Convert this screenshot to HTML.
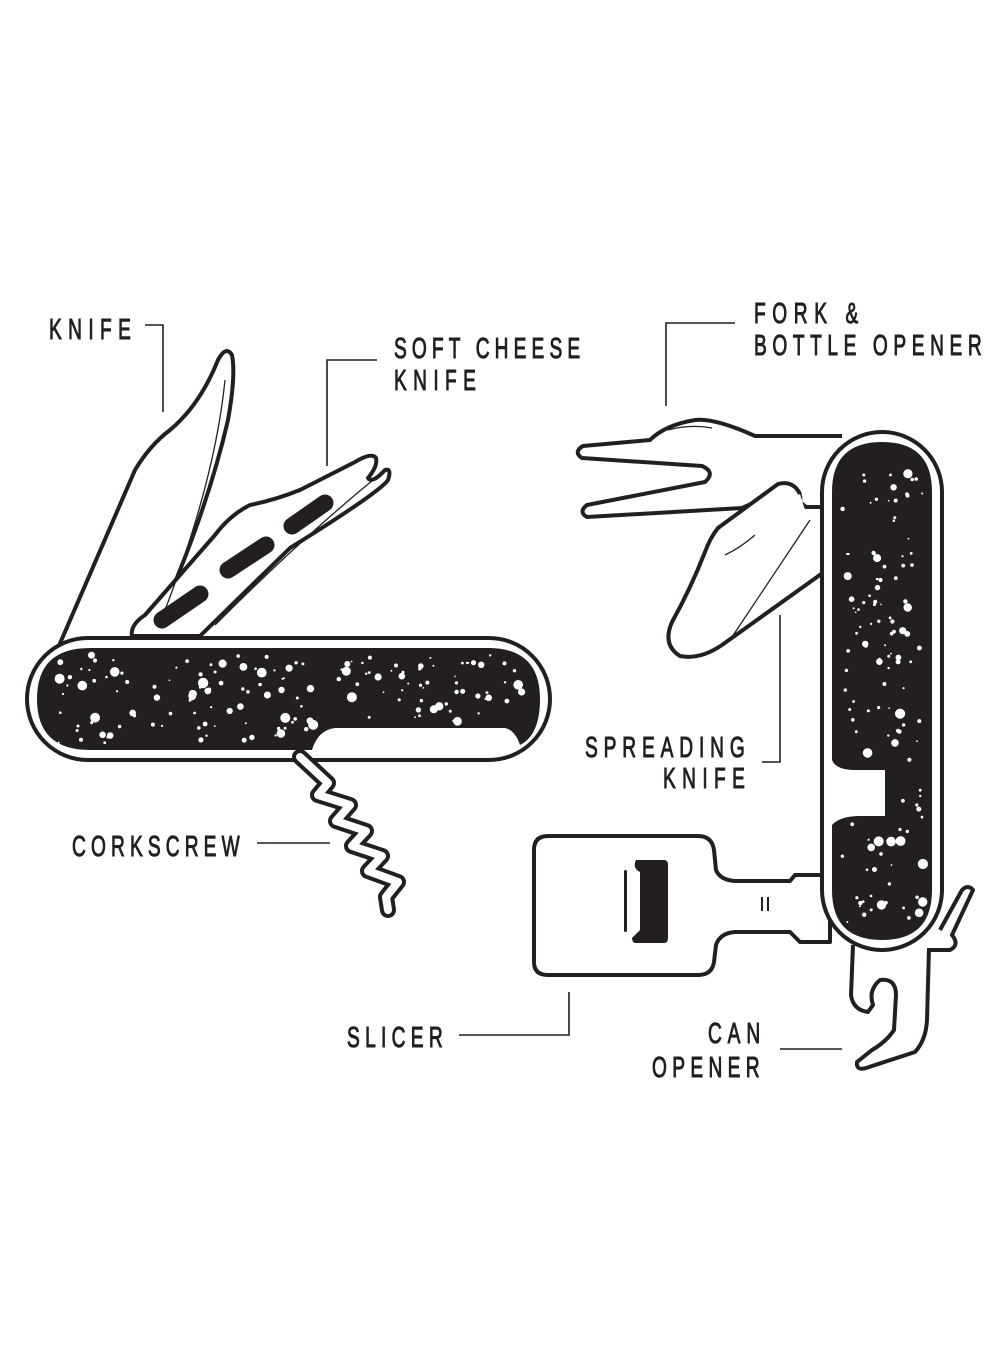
<!DOCTYPE html>
<html><head><meta charset="utf-8"><style>
html,body{margin:0;padding:0;background:#fff}
svg{display:block}
text{font-family:"Liberation Sans",sans-serif;font-size:29px;fill:#231f20;stroke:#231f20;stroke-width:1}
</style></head><body>
<svg id="s" width="1000" height="1360" viewBox="0 0 1000 1360" xmlns="http://www.w3.org/2000/svg">
<g fill="none" stroke="#231f20" stroke-width="1.6">
<polyline points="145,325 163,325 163,412"/>
<polyline points="377,360 327,360 327,466"/>
<polyline points="735,323 666,323 666,406"/>
<polyline points="762,762 780,762 780,615"/>
<polyline points="257,843 330,843"/>
<polyline points="459,1035 569,1035 569,992"/>
<polyline points="780,1049 842,1049"/>
</g>
<g fill="#fff" stroke="#231f20" stroke-width="4" stroke-linejoin="round">
<path d="M58,648 L135,470 Q150,445 170,430 Q200,405 218,360 Q226,345 232,355 Q236,375 228,420 Q205,520 150,640 Z"/>
<path d="M132,636 Q130,625 145,615 L215,535 Q230,515 250,505 Q275,500 300,490 L355,462 Q372,452 376,458 Q378,466 368,478 Q372,484 385,470 Q392,468 388,480 Q380,492 290,548 L200,636 Z"/>
<path d="M842,436 L755,436 Q715,418 695,420 Q665,425 650,440 L583,446 Q573,452 582,458 L702,466 Q716,472 705,482 L587,505 Q578,512 587,517 L742,508 L790,487 Q802,490 800,502 L806,507 L825,507"/>
<path d="M800,494 Q793,480 778,484 L718,528 Q710,538 705,552 Q690,590 672,622 Q662,645 680,656 Q700,660 722,645 L824,572"/>
<path d="M548,836 L698,836 Q712,836 714,850 L716,870 Q720,880 735,881 L790,881 L795,875 L830,875 L830,942 L800,942 L790,932 L735,932 Q720,933 716,945 L714,962 Q712,975 698,975 L548,975 Q534,975 534,962 L534,850 Q534,836 548,836 Z"/>
<path d="M853,945 L851,995 Q853,1010 868,1012 L873,1005 Q868,990 880,980 Q896,978 896,995 L894,1030 Q886,1042 872,1050 L857,1062 Q856,1071 866,1068 L915,1052 Q926,1040 927,1020 L929,948"/>
<path d="M940,930 L962,890 Q968,884 973,890 L952,935 Q960,945 950,950 L930,950"/>
<rect x="27" y="638" width="523" height="122" rx="61"/>
<rect x="822" y="432" width="120" height="518" rx="60"/>
</g>
<polyline points="300,757 328,783 318,795 350,805 336,821 366,831 352,846 382,856 368,871 398,882 386,897 388,910" fill="none" stroke="#231f20" stroke-width="16" stroke-linejoin="round" stroke-linecap="round"/>
<polyline points="300,757 328,783 318,795 350,805 336,821 366,831 352,846 382,856 368,871 398,882 386,897 388,910" fill="none" stroke="#fff" stroke-width="8" stroke-linejoin="round" stroke-linecap="round"/>
<g fill="#231f20">
<path d="M90,648 L488,648 Q540,648 540,699 Q540,735 520,745 Q515,730 505,728 L335,728 Q318,730 312,750 L90,750 Q37,750 37,699 Q37,648 90,648 Z"/>
<path d="M882,442 Q932,442 932,492 L932,890 Q932,940 882,940 Q832,940 832,890 L832,825 Q840,816 860,816 L885,816 L885,770 L855,770 Q836,770 832,760 L832,492 Q832,442 882,442 Z"/>
<g stroke="#231f20" stroke-width="17" stroke-linecap="round">
<line x1="162" y1="620" x2="200" y2="594"/>
<line x1="228" y1="570" x2="266" y2="545"/>
<line x1="292" y1="526" x2="325" y2="503"/>
</g>
<path d="M636,860 L664,860 Q668,860 668,865 L668,938 Q668,943 664,943 L636,943 Q632,943 632,938 L640,930 L640,872 Q632,868 636,860 Z"/>
<rect x="624" y="870" width="3" height="62" rx="1.5"/>
<rect x="761" y="897" width="2" height="14"/>
<rect x="767" y="897" width="2" height="14"/>
</g>
<g fill="#fff" id="sp"></g>
<g stroke="#231f20" stroke-width="1.3" fill="none">
<path d="M225,380 Q215,480 165,610"/>
<path d="M373,480 Q300,540 215,625"/>
<path d="M810,520 L730,640"/>
<path d="M755,535 Q740,548 725,555"/>
<path d="M668,430 Q690,424 712,428"/>
</g>
<g font-size="28">
<text transform="translate(49,339) scale(0.66,1)" textLength="124" lengthAdjust="spacing">KNIFE</text>
<text transform="translate(394,358) scale(0.66,1)" textLength="282" lengthAdjust="spacing">SOFT CHEESE</text>
<text transform="translate(394,390) scale(0.66,1)" textLength="124" lengthAdjust="spacing">KNIFE</text>
<text transform="translate(754,323) scale(0.66,1)" textLength="158" lengthAdjust="spacing">FORK &amp;</text>
<text transform="translate(754,355) scale(0.66,1)" textLength="345" lengthAdjust="spacing">BOTTLE OPENER</text>
<text transform="translate(585,757) scale(0.66,1)" textLength="242" lengthAdjust="spacing">SPREADING</text>
<text transform="translate(663,788) scale(0.66,1)" textLength="124" lengthAdjust="spacing">KNIFE</text>
<text transform="translate(72,856) scale(0.66,1)" textLength="254" lengthAdjust="spacing">CORKSCREW</text>
<text transform="translate(347,1047) scale(0.66,1)" textLength="145" lengthAdjust="spacing">SLICER</text>
<text transform="translate(708,1043) scale(0.66,1)" textLength="79" lengthAdjust="spacing">CAN</text>
<text transform="translate(652,1077) scale(0.66,1)" textLength="163" lengthAdjust="spacing">OPENER</text>
</g>
</svg>
<script>
(function(){var g=document.getElementById('sp'),s=1234567;function r(){s=(s*16807)%2147483647;return s/2147483647;}
var ns='http://www.w3.org/2000/svg';
function add(x,y,rad){var c=document.createElementNS(ns,'circle');c.setAttribute('cx',x.toFixed(1));c.setAttribute('cy',y.toFixed(1));c.setAttribute('r',rad.toFixed(1));g.appendChild(c);}
for(var i=0;i<170;i++){var x=55+r()*470,y=655+r()*88;if(x>320&&y>722)continue;add(x,y,r()<0.7?0.8+r()*1.4:2.2+r()*3);}
for(var j=0;j<130;j++){var x2=842+r()*82,y2=460+r()*465;if(x2<890&&y2>765&&y2<822)continue;add(x2,y2,r()<0.7?0.8+r()*1.4:2.2+r()*3);}
})();
</script>
</body></html>
